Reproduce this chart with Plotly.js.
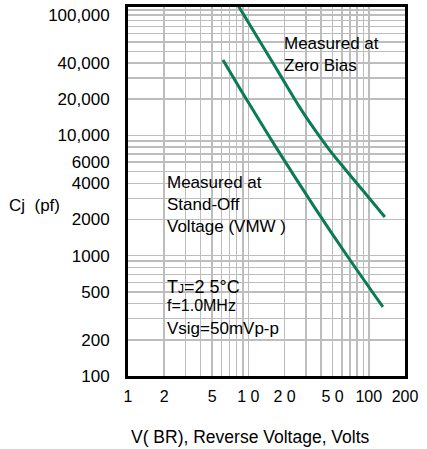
<!DOCTYPE html>
<html><head><meta charset="utf-8">
<script src="https://cdn.plot.ly/plotly-3.0.1.min.js"></script>
<style>html,body{margin:0;padding:0;background:#fff}#chart{width:427px;height:449px}</style>
</head><body><div id="chart"></div>
<script>
// Data (V in volts, Cj in pF)
const zeroBiasV  = [7.89, 12.5, 18.3, 26.8, 35.7, 47.6, 63.4, 93.0, 136];
const zeroBiasCj = [128500, 60100, 32000, 17000, 11100, 7480, 5260, 3320, 2100];
const standOffV  = [6.15, 9.93, 17.6, 35.7, 67.2, 131];
const standOffCj = [42400, 19000, 7500, 2500, 975, 375];

// Tick / grid values and labels
const xTickVals = [1,2,3,4,5,6,7,8,9,10,20,30,40,50,60,70,80,90,100,200];
const xTickText = ['1','2','','','5','','','','','1 0','2 0','','','5 0','','','','','100','200'];
const yTickVals = [100,200,300,400,500,600,700,800,900,
                   1000,2000,3000,4000,5000,6000,7000,8000,9000,
                   10000,20000,30000,40000,50000,60000,70000,80000,90000,100000,110000];
const yTickText = ['100','200','','','500','','','','',
                   '1000','2000','','4000','','6000','','','',
                   '10,000','20,000','','40,000','','','','','','100,000',''];

const FONT = 'Liberation Sans, Arial, sans-serif';
const GREEN = '#0b7a57';

const traces = [
  {x: zeroBiasV, y: zeroBiasCj, mode: 'lines', line: {color: GREEN, width: 3, shape: 'spline', smoothing: 1}, hoverinfo: 'skip'},
  {x: standOffV, y: standOffCj, mode: 'lines', line: {color: GREEN, width: 3, shape: 'spline', smoothing: 1}, hoverinfo: 'skip'}
];

function ann(text, x, y, size, extra) {
  return Object.assign({text: text, x: x, y: y, xref: 'paper', yref: 'paper', showarrow: false,
    xanchor: 'left', yanchor: 'middle', align: 'left', font: {family: FONT, size: size, color: '#000'}}, extra || {});
}

const layout = {
  width: 427, height: 449,
  margin: {l: 128, r: 22, t: 7, b: 73},
  paper_bgcolor: '#fff', plot_bgcolor: '#fff',
  showlegend: false,
  font: {family: FONT, color: '#000'},
  xaxis: {
    type: 'log', range: [0, Math.log10(200)],
    tickmode: 'array', tickvals: xTickVals, ticktext: xTickText,
    ticks: '', ticklabelstandoff: 4,
    tickfont: {family: FONT, size: 16, color: '#000'},
    showgrid: true, gridcolor: '#bdbdbd', gridwidth: 1.5,
    showline: true, mirror: true, linecolor: '#000', linewidth: 3, zeroline: false
  },
  yaxis: {
    type: 'log', range: [2, 5.067],
    tickmode: 'array', tickvals: yTickVals, ticktext: yTickText,
    ticks: '', ticklabelstandoff: 12,
    tickfont: {family: FONT, size: 17, color: '#000'},
    showgrid: true, gridcolor: '#bdbdbd', gridwidth: 1.5,
    showline: true, mirror: true, linecolor: '#000', linewidth: 3, zeroline: false
  },
  annotations: [
    ann('Measured at<br>Zero Bias', 0.556, 0.871, 17),
    ann('Measured at<br>Stand-Off<br>Voltage (VMW )', 0.1336, 0.466, 17),
    ann('T<span style="font-size:12px">J</span>=2 5°C', 0.1336, 0.241, 18),
    ann('f=1.0MHz', 0.1336, 0.190, 16),
    ann('Vsig=50mVp-p', 0.1336, 0.130, 17),
    ann('Cj  (pf)', -0.336, 0.461, 17, {xanchor: 'center'}),
    ann('V( BR), Reverse Voltage, Volts', 0.442, -0.165, 17.5, {xanchor: 'center'})
  ]
};

Plotly.newPlot('chart', traces, layout, {staticPlot: true, displayModeBar: false});
</script>
</body></html>
